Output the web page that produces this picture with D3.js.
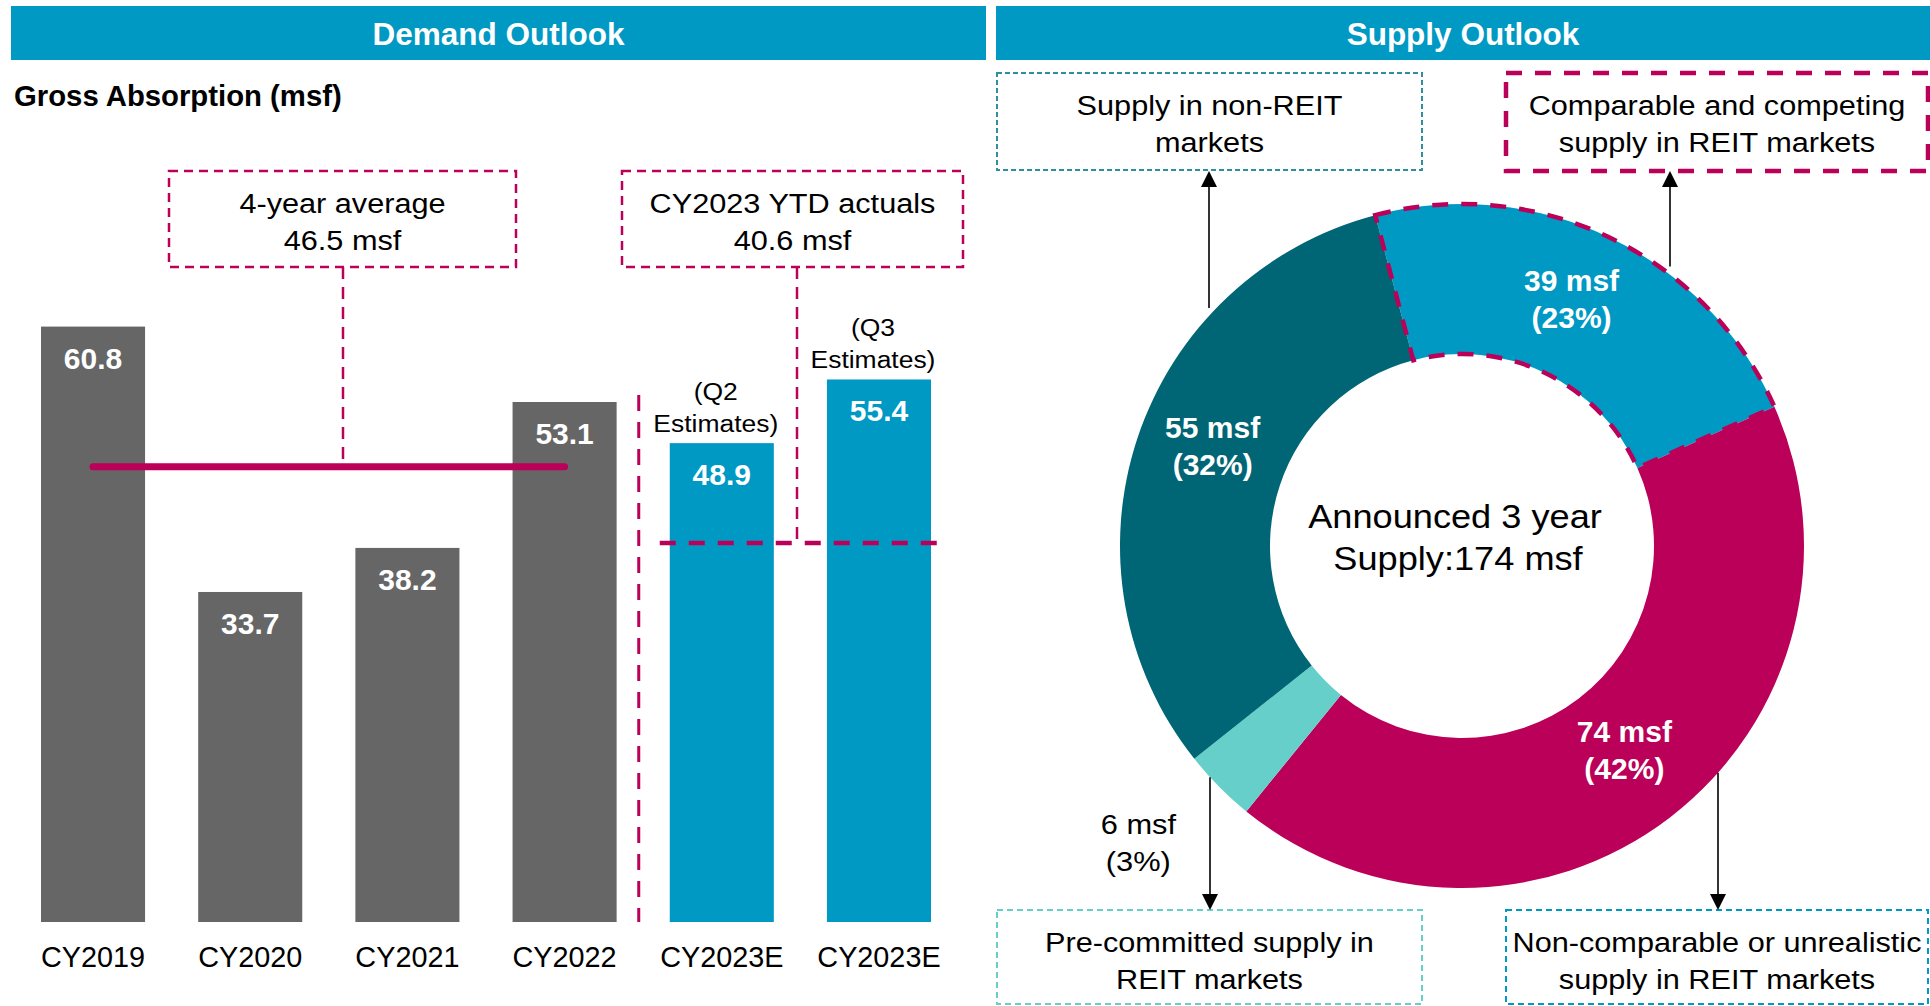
<!DOCTYPE html>
<html>
<head>
<meta charset="utf-8">
<script src="https://cdn.jsdelivr.net/npm/d3@7/dist/d3.min.js"></script>
<style>
  html, body { margin: 0; padding: 0; background: #fff; }
  svg { display: block; }
</style>
</head>
<body>
<script>
/* Demand / supply outlook slide. Left: bars of gross absorption with avg + YTD refs.
   Right: donut of announced 3-year supply with call-out boxes. */

// ---- data ----
const categories = ['CY2019', 'CY2020', 'CY2021', 'CY2022', 'CY2023E', 'CY2023E'];
const absorption = [60.8, 33.7, 38.2, 53.1, 48.9, 55.4];
const isEstimate = [false, false, false, false, true, true];
const estimateNotes = [null, null, null, null, ['(Q2', 'Estimates)'], ['(Q3', 'Estimates)']];
const fourYearAvg = 46.5;
const ytdActual = 40.6;
const ytdLineAt = 38.7;   // the dashed YTD line sits a bit below 40.6 in the source

const supplyNames = ['Comparable and competing', 'Non-comparable or unrealistic', 'Pre-committed', 'Non-REIT'];
const supplyValues = [39, 74, 6, 55];
const supplyPct = [23, 42, 3, 32];
const supplyTotal = 174;

// ---- look ----
const W = 1930, H = 1006;
const FONT = 'Liberation Sans, Arial, Helvetica, sans-serif';
const blue = '#0099c4', gray = '#666666', magenta = '#ba0058';
const darkTeal = '#006675', lightTeal = '#66cfca', boxTeal = '#2f8f9e';
const supplyColors = [blue, magenta, lightTeal, darkTeal];
const SX = 1.08; // regular text in the source is set a little wide
const labelNudge = [[-6, 0], [0, -2], [0, 0], [4, -10]];

const svg = d3.select('body').append('svg').attr('width', W).attr('height', H);

function label(g, x, y, str, o = {}) {
  return g.append('text')
    .attr('transform', `translate(${x},${y}) scale(${o.sx || 1},1)`)
    .attr('text-anchor', o.anchor || 'middle')
    .attr('font-family', FONT)
    .attr('font-size', o.size || 28)
    .attr('font-weight', o.bold ? 700 : 400)
    .attr('fill', o.fill || '#000')
    .text(str);
}

function dashedBox(g, b) {
  g.append('rect')
    .attr('x', b.x).attr('y', b.y).attr('width', b.w).attr('height', b.h)
    .attr('fill', 'none').attr('stroke', b.stroke).attr('stroke-width', b.sw)
    .attr('stroke-dasharray', b.dash);
  b.lines.forEach((t, i) =>
    label(g, b.x + b.w / 2, b.y + 42 + i * 37, t, { size: 28.4, sx: SX }));
}

// ---- headers ----
const headers = [
  { x: 11, w: 975, text: 'Demand Outlook' },
  { x: 996, w: 934, text: 'Supply Outlook' }
];
headers.forEach(h => {
  svg.append('rect').attr('x', h.x).attr('y', 6).attr('width', h.w).attr('height', 54).attr('fill', blue);
  label(svg, h.x + h.w / 2, 45, h.text, { size: 31.5, bold: true, fill: '#fff' });
});

// ================= Demand (bars) =================
const left = svg.append('g');
label(left, 14, 106, 'Gross Absorption (msf)', { size: 29.3, bold: true, anchor: 'start' });

const x = d3.scaleBand().domain(d3.range(categories.length)).range([41, 931]).paddingInner(0.338).paddingOuter(0);
const y = d3.scaleLinear().domain([0, 70]).range([922, 236.5]);
const bw = x.bandwidth();
const cxOf = i => x(i) + bw / 2;

left.selectAll('rect.bar').data(absorption).join('rect')
  .attr('class', 'bar')
  .attr('x', (d, i) => x(i)).attr('y', d => y(d))
  .attr('width', bw).attr('height', d => y(0) - y(d))
  .attr('fill', (d, i) => isEstimate[i] ? blue : gray);

absorption.forEach((v, i) => {
  label(left, cxOf(i), y(v) + 42, v.toFixed(1), { size: 30, bold: true, fill: '#fff' });
  label(left, cxOf(i), 967, categories[i], { size: 28.8 });
  const note = estimateNotes[i];
  if (note) {
    label(left, cxOf(i) - 6, y(v) - 43, note[0], { size: 24.5, sx: SX });
    label(left, cxOf(i) - 6, y(v) - 11, note[1], { size: 24.5, sx: SX });
  }
});

// separator between actuals and estimates
left.append('line')
  .attr('x1', x(4) - 31).attr('x2', x(4) - 31).attr('y1', 395).attr('y2', y(0))
  .attr('stroke', magenta).attr('stroke-width', 3).attr('stroke-dasharray', '16 11');

// 4-year average line
left.append('line')
  .attr('x1', cxOf(0)).attr('x2', cxOf(3)).attr('y1', y(fourYearAvg)).attr('y2', y(fourYearAvg))
  .attr('stroke', magenta).attr('stroke-width', 7).attr('stroke-linecap', 'round');

// YTD line
left.append('line')
  .attr('x1', x(4) - 10).attr('x2', x(5) + bw + 17).attr('y1', y(ytdLineAt)).attr('y2', y(ytdLineAt))
  .attr('stroke', magenta).attr('stroke-width', 4.5).attr('stroke-dasharray', '16 13');

// call-out boxes + connectors
const demandBoxes = [
  { x: 169, y: 171, w: 347, h: 96, cx: 343, to: y(fourYearAvg), lines: ['4-year average', `${fourYearAvg} msf`] },
  { x: 622, y: 171, w: 341, h: 96, cx: 797, to: y(ytdLineAt), lines: ['CY2023 YTD actuals', `${ytdActual} msf`] }
];
demandBoxes.forEach(b => {
  left.append('line')
    .attr('x1', b.cx).attr('x2', b.cx).attr('y1', b.y + b.h).attr('y2', b.to)
    .attr('stroke', magenta).attr('stroke-width', 2.5).attr('stroke-dasharray', '12 8');
  dashedBox(left, Object.assign({ stroke: magenta, sw: 2.5, dash: '9 6' }, b));
});

// ================= Supply (donut) =================
const right = svg.append('g');
const dc = { x: 1462, y: 546 }, R = 342, r = 192;
const start = -14.7 * Math.PI / 180;

const pie = d3.pie().sort(null).startAngle(start).endAngle(start + 2 * Math.PI);
const arcs = pie(supplyValues);
const arc = d3.arc().innerRadius(r).outerRadius(R);
const donut = right.append('g').attr('transform', `translate(${dc.x},${dc.y})`);

donut.selectAll('path.slice').data(arcs).join('path')
  .attr('class', 'slice')
  .attr('d', arc)
  .attr('fill', (d, i) => supplyColors[i]);

// dashed outline on the comparable / competing slice
donut.append('path')
  .attr('d', arc(arcs[0]))
  .attr('fill', 'none').attr('stroke', magenta).attr('stroke-width', 4.5)
  .attr('stroke-dasharray', '16 13');

// slice labels
arcs.forEach((a, i) => {
  if (i === 2) return;
  const [cx0, cy0] = arc.centroid(a);
  const lx = cx0 + labelNudge[i][0], ly = cy0 + labelNudge[i][1];
  label(donut, lx, ly - 14, `${supplyValues[i]} msf`, { size: 30, bold: true, fill: '#fff' });
  label(donut, lx, ly + 23, `(${supplyPct[i]}%)`, { size: 30, bold: true, fill: '#fff' });
});
{
  const outer = d3.arc().innerRadius(430).outerRadius(430);
  const [lx, ly] = outer.centroid(arcs[2]);
  label(donut, lx - 18, ly - 14, `${supplyValues[2]} msf`, { size: 28.5, sx: SX });
  label(donut, lx - 18, ly + 23, `(${supplyPct[2]}%)`, { size: 28.5, sx: SX });
}

label(donut, -7, -18, 'Announced 3 year', { size: 33.5, sx: SX });
label(donut, -4, 24, `Supply:${supplyTotal} msf`, { size: 33.5, sx: SX });

// boxes round the donut
const supplyBoxes = [
  { x: 997, y: 73, w: 425, h: 97, stroke: boxTeal, sw: 2, dash: '5 3', lines: ['Supply in non-REIT', 'markets'] },
  { x: 1506, y: 73, w: 422, h: 98, stroke: magenta, sw: 4.5, dash: '16 13', lines: ['Comparable and competing', 'supply in REIT markets'] },
  { x: 997, y: 910, w: 425, h: 94, stroke: lightTeal, sw: 2, dash: '6 4', lines: ['Pre-committed supply in', 'REIT markets'] },
  { x: 1506, y: 910, w: 422, h: 94, stroke: blue, sw: 2, dash: '6 4', lines: ['Non-comparable or unrealistic', 'supply in REIT markets'] }
];
supplyBoxes.forEach(b => dashedBox(right, b));

// arrows from the ring to the boxes
const arrows = [
  { x: 1209, up: true, tip: 171 },
  { x: 1670, up: true, tip: 171 },
  { x: 1210, up: false, tip: 910 },
  { x: 1718, up: false, tip: 910 }
];
arrows.forEach(a => {
  const dy = Math.sqrt(R * R - (a.x - dc.x) ** 2);
  const from = a.up ? dc.y - dy - 8 : dc.y + dy;
  const s = a.up ? 1 : -1;   // head points toward the tip
  right.append('line')
    .attr('x1', a.x).attr('x2', a.x).attr('y1', from).attr('y2', a.tip + s * 10)
    .attr('stroke', '#000').attr('stroke-width', 1.6);
  right.append('path')
    .attr('d', `M${a.x},${a.tip} L${a.x - 8},${a.tip + s * 16} L${a.x + 8},${a.tip + s * 16} Z`)
    .attr('fill', '#000');
});
</script>
</body>
</html>
